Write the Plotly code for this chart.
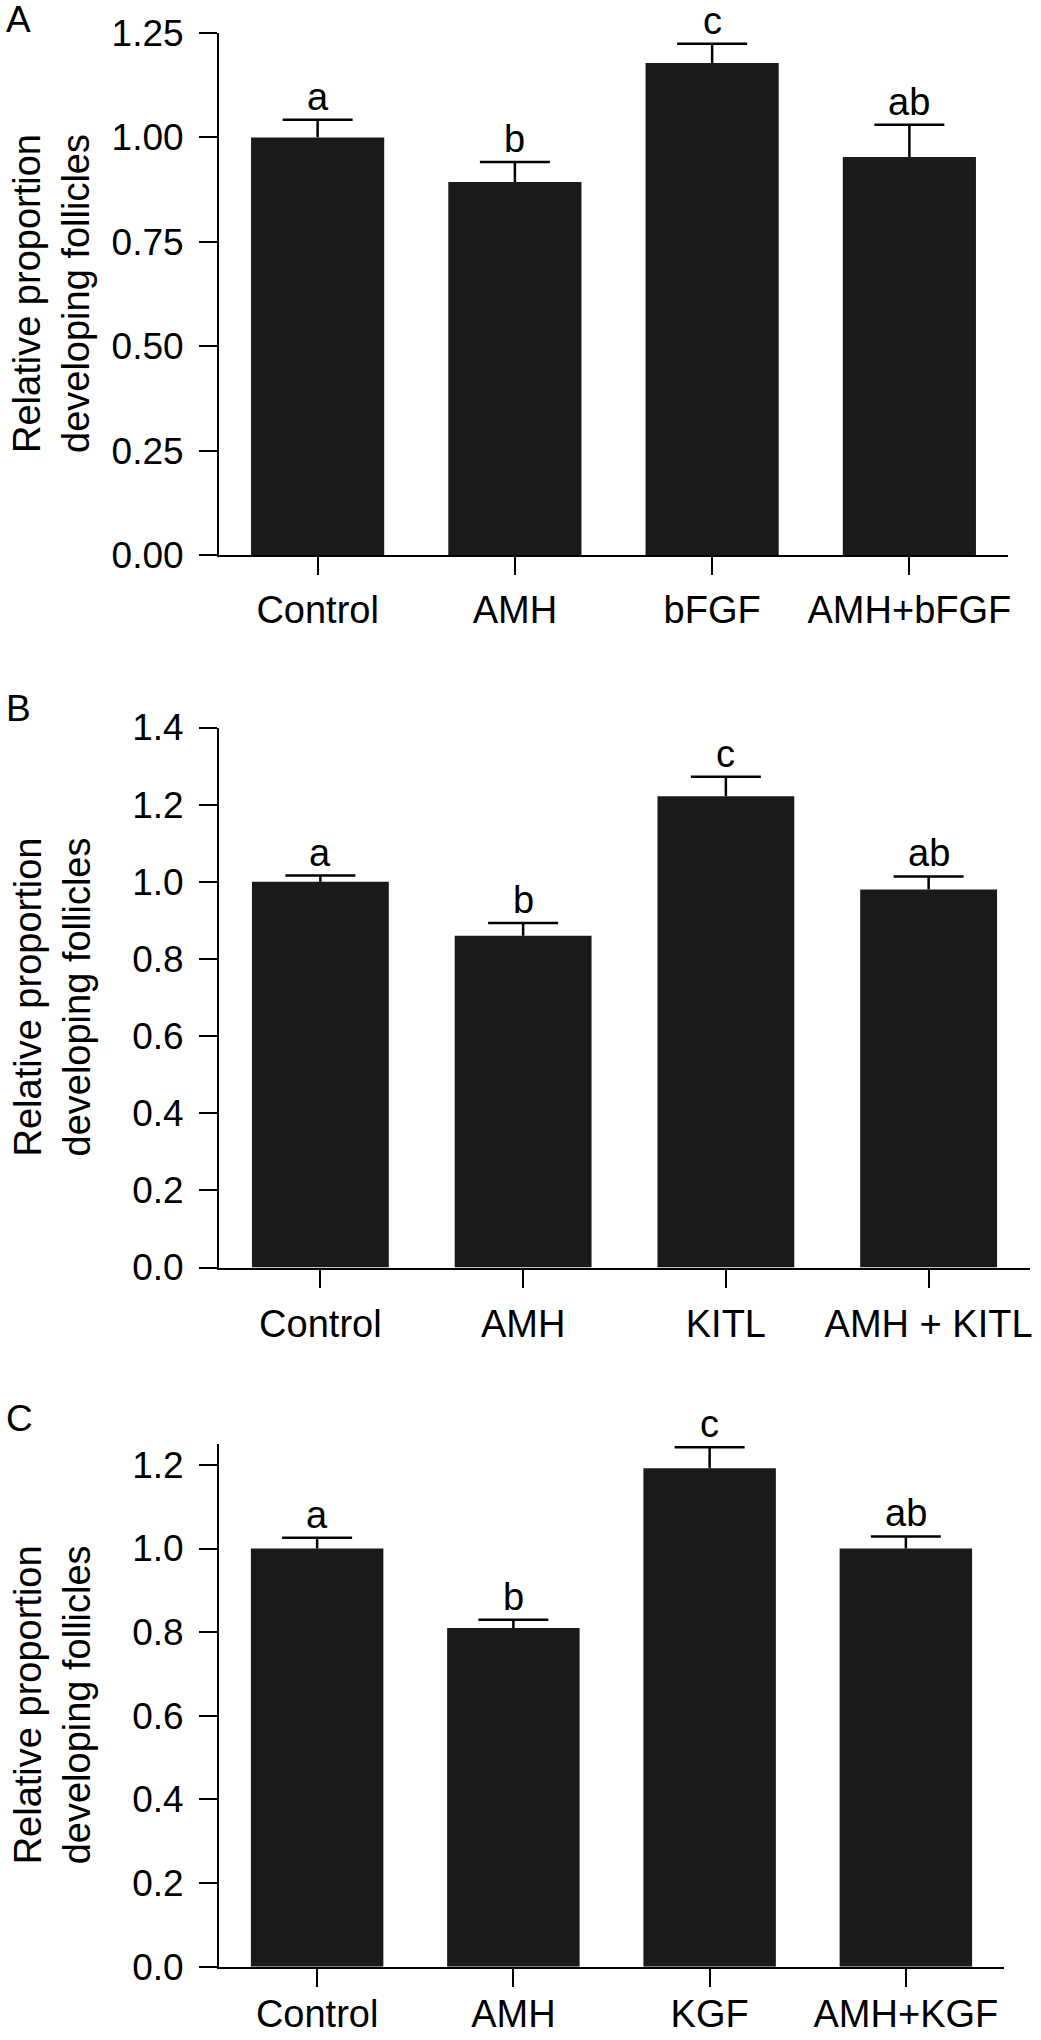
import plotly.graph_objects as go

FONT = "Liberation Sans, Arial, Helvetica, sans-serif"

# Panel A
cats_a = ["Control", "AMH", "bFGF", "AMH+bFGF"]
vals_a = [1.00, 0.893, 1.178, 0.953]
err_a = [0.042, 0.048, 0.046, 0.077]
sig_a = ["a", "b", "c", "ab"]

# Panel B
cats_b = ["Control", "AMH", "KITL", "AMH + KITL"]
vals_b = [1.00, 0.860, 1.222, 0.980]
err_b = [0.016, 0.033, 0.050, 0.034]
sig_b = ["a", "b", "c", "ab"]

# Panel C
cats_c = ["Control", "AMH", "KGF", "AMH+KGF"]
vals_c = [1.00, 0.810, 1.192, 1.00]
err_c = [0.026, 0.020, 0.050, 0.029]
sig_c = ["a", "b", "c", "ab"]

panel_letters = ["A", "B", "C"]
ytitle = "Relative proportion<br>developing follicles"

W, H = 1041, 2040

def py(pix):
    return 1 - pix / H

def px(pix):
    return pix / W

panels = [
    dict(cats=cats_a, vals=vals_a, err=err_a, sig=sig_a, xd=[px(219), px(1008)], yd=[py(555), py(33)],
         yr=[0, 1.25], dtick=0.25, fmt=".2f", label_y=10, xstand=2),
    dict(cats=cats_b, vals=vals_b, err=err_b, sig=sig_b, xd=[px(219), px(1030)], yd=[py(1267.5), py(727.5)],
         yr=[0, 1.4], dtick=0.2, fmt=".1f", label_y=699, xstand=4),
    dict(cats=cats_c, vals=vals_c, err=err_c, sig=sig_c, xd=[px(219), px(1004)], yd=[py(1966.7), py(1444)],
         yr=[0, 1.25], dtick=0.2, fmt=".1f", label_y=1409, xstand=-5),
]

fig = go.Figure()
annotations = []
layout = dict(
    width=W, height=H, margin=dict(l=0, r=0, t=0, b=0, autoexpand=False),
    paper_bgcolor="white", plot_bgcolor="white", showlegend=False,
    bargap=0.325, font=dict(family=FONT, size=38, color="black"),
)

for i, p in enumerate(panels):
    n = i + 1
    xa = "x" if n == 1 else f"x{n}"
    ya = "y" if n == 1 else f"y{n}"
    tops = [v + e for v, e in zip(p["vals"], p["err"])]
    fig.add_trace(go.Bar(
        x=p["cats"], y=p["vals"], xaxis=xa, yaxis=ya,
        marker=dict(color="#1a1a1a", line=dict(width=0)),
        error_y=dict(type="data", array=p["err"], arrayminus=[0] * len(p["err"]), symmetric=False,
                     color="black", thickness=2.5, width=0),
        hoverinfo="skip",
    ))
    # error-bar caps
    fig.add_trace(go.Scatter(
        x=p["cats"], y=tops, xaxis=xa, yaxis=ya, mode="markers",
        marker=dict(symbol="line-ew", size=50, line=dict(width=2.5, color="black"), color="black"),
        hoverinfo="skip",
    ))
    xkey = "xaxis" if n == 1 else f"xaxis{n}"
    ykey = "yaxis" if n == 1 else f"yaxis{n}"
    layout[xkey] = dict(
        domain=p["xd"], anchor=ya, type="category", range=[-0.5, len(p["cats"]) - 0.5],
        showline=True, linecolor="black", linewidth=2, ticks="outside", ticklen=18, tickwidth=2,
        tickcolor="black", showgrid=False, zeroline=False, tickfont=dict(size=38, family=FONT),
        ticklabelstandoff=p["xstand"], automargin=False,
    )
    layout[ykey] = dict(
        domain=p["yd"], anchor=xa, range=p["yr"], dtick=p["dtick"], tick0=0, tickformat=p["fmt"],
        showline=True, linecolor="black", linewidth=2, ticks="outside", ticklen=18, tickwidth=2,
        tickcolor="black", showgrid=False, zeroline=False, tickfont=dict(size=37, family=FONT),
        ticklabelstandoff=8, automargin=False,
    )
    for c, t, s in zip(p["cats"], tops, p["sig"]):
        annotations.append(dict(
            x=c, y=t, xref=xa, yref=ya, text=s, showarrow=False, borderpad=0,
            yanchor="bottom", xanchor="center", yshift=1, font=dict(size=38, family=FONT),
        ))
    # y-axis title
    annotations.append(dict(
        x=px(52), y=(p["yd"][0] + p["yd"][1]) / 2, xref="paper", yref="paper", text=ytitle,
        showarrow=False, textangle=-90, xanchor="center", yanchor="middle",
        font=dict(size=38, family=FONT),
    ))
    # panel letter
    annotations.append(dict(
        x=px(4), y=py(p["label_y"] - 13), xref="paper", yref="paper", text=panel_letters[i],
        showarrow=False, xanchor="left", yanchor="top", font=dict(size=37, family=FONT),
    ))

layout["annotations"] = annotations
fig.update_layout(**layout)
fig.write_html("out.html", config={"displayModeBar": False},
               post_script="document.body.style.margin='0';document.body.style.overflow='hidden';")
